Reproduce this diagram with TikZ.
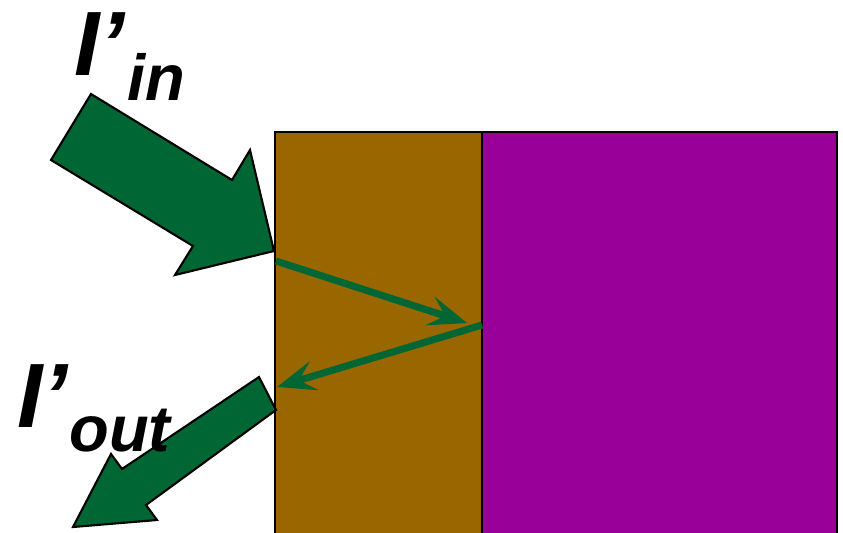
\documentclass[tikz,border=0pt]{standalone}
\usepackage{fontspec}
\setmainfont{Liberation Sans}
\usetikzlibrary{arrows.meta, positioning}
\definecolor{layerbrown}{RGB}{153, 102, 0}
\definecolor{basepurple}{RGB}{153, 0, 153}
\definecolor{raygreen}{RGB}{0, 102, 51}

\begin{document}
\begin{tikzpicture}[
    x=0.02cm, y=-0.02cm,
    slab/.style={draw=black, line width=1.2pt},
    bigarrow/.style={draw=black, line width=1.2pt, fill=raygreen, line join=miter},
    ray/.style={draw=raygreen, line width=4pt, -{Stealth[length=22pt, width=17pt, inset=9pt]}},
    lbl/.style={inner sep=0pt, anchor=base west, font=\fontsize{52}{52}\selectfont\bfseries\itshape},
    sub/.style={inner sep=0pt, anchor=base west, font=\fontsize{37}{37}\selectfont\bfseries\itshape}
]
    \clip (0,0) rectangle (843,532);
    % layers
    \path[slab, fill=layerbrown] (275,132) rectangle (482,545);
    \path[slab, fill=basepurple] (482,132) rectangle (837,545);
    % incoming and outgoing beams
    \path[bigarrow] (91,94) -- (232,180) -- (250,150) -- (274,251) -- (175,275) -- (193,246) -- (51,160) -- cycle;
    \path[bigarrow] (259,377) -- (276,410) -- (146,505) -- (157,520) -- (73,527) -- (111,454) -- (122,469) -- cycle;
    % rays inside the layer
    \coordinate (entry) at (276,261);
    \coordinate (hit) at (467,323);
    \coordinate (turn) at (482,325);
    \coordinate (exit) at (277,387);
    \draw[ray] (entry) -- (hit);
    \draw[ray] (turn) -- (exit);
    % labels
    \node[lbl] (iin) at (74,75) {I’};
    \node[sub] (iinsub) at (127,100) {in};
    \node[lbl] (iout) at (17,427) {I’};
    \node[sub] (ioutsub) at (69,451) {out};
\end{tikzpicture}
\end{document}
